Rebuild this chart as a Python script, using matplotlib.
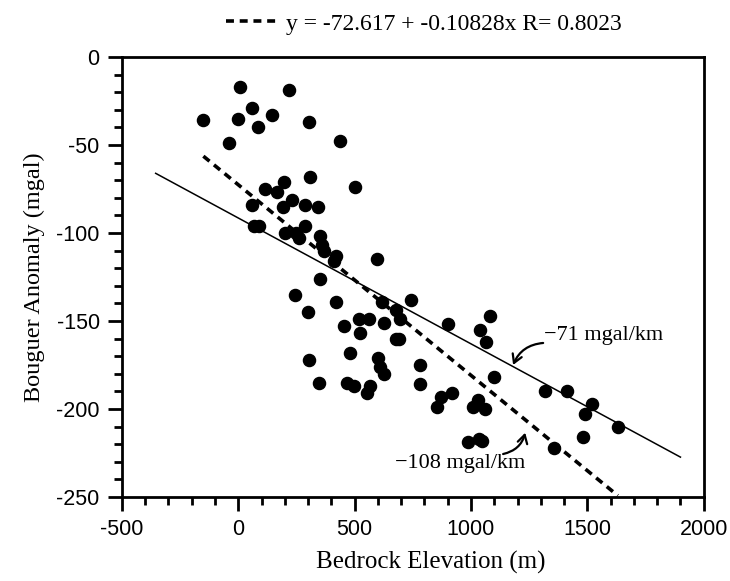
import numpy as np
import matplotlib
matplotlib.use("Agg")
import matplotlib.pyplot as plt
from matplotlib.lines import Line2D
from matplotlib.ticker import MultipleLocator

# bedrock elevation (m) and bouguer anomaly (mgal)
elevation = [-150, 6, -1, 60, 86, 146, 218, 304, -39, 435,
             308, 196, 113, 168, 229, 60, 192, 285, 342,
             67, 89, 287, 199, 246, 261, 351, 361, 368, 418, 411,
             500, 597, 351, 242, 422, 299, 454, 304, 349,
             619, 743, 676, 696, 626, 519, 561, 525, 676, 690, 480,
             902, 1081, 1037, 1065, 600, 611, 626, 783, 783,
             468, 497, 568, 554, 1100, 919, 869, 852, 1028, 1007, 1060,
             1034, 1048, 986, 1316, 1412, 1522, 1492, 1631, 1481, 1357]
anomaly = [-36, -17, -35, -29, -40, -33, -19, -37, -49, -48,
           -68, -71, -75, -77, -81, -84, -85, -84, -85,
           -96, -96, -96, -100, -100, -103, -102, -107, -110, -113, -116,
           -74, -115, -126, -135, -139, -145, -153, -172, -185,
           -139, -138, -144, -149, -151, -149, -149, -157, -160, -160, -168,
           -152, -147, -155, -162, -171, -176, -180, -175, -186,
           -185, -187, -187, -191, -182, -191, -193, -199, -195, -199, -200,
           -217, -218, -219, -190, -190, -197, -203, -210, -216, -222]

# least squares fit quoted in the legend
fit_a, fit_b, fit_r = -72.617, -0.10828, 0.8023
# the -71 mgal/km line
solid_x = [-355, 1900]
solid_a, solid_b = -91.5, -0.0715

plt.rcParams['axes.unicode_minus'] = False
serif = 'Liberation Serif'
sans = 'Liberation Sans'

fig = plt.figure(figsize=(7.3, 5.81), dpi=100)
ax = fig.add_axes([0.167, 0.1446, 0.797, 0.7574])

ax.scatter(elevation, anomaly, s=76, color='black', zorder=3)

xs = np.array([min(elevation), max(elevation)])
ax.plot(xs, fit_a + fit_b * xs, color='black', lw=2.6, ls=(0, (2.2, 1.6)), zorder=2)

sx = np.array(solid_x)
ax.plot(sx, solid_a + solid_b * sx, color='black', lw=1.1, zorder=2)

ax.set_xlim(-500, 2000)
ax.set_ylim(-250, 0)
ax.xaxis.set_major_locator(MultipleLocator(500))
ax.xaxis.set_minor_locator(MultipleLocator(100))
ax.yaxis.set_major_locator(MultipleLocator(50))
ax.yaxis.set_minor_locator(MultipleLocator(10))
ax.tick_params(which='major', direction='out', length=10, width=2, labelsize=15.5, pad=6)
ax.tick_params(which='minor', direction='out', length=6, width=2)
ax.tick_params(top=False, right=False)
for lab in ax.get_xticklabels() + ax.get_yticklabels():
    lab.set_fontfamily(sans)
for sp in ax.spines.values():
    sp.set_linewidth(2)

ax.set_xlabel('Bedrock Elevation (m)', fontfamily=serif, fontsize=18, labelpad=8, x=0.53)
ax.set_ylabel('Bouguer Anomaly (mgal)', fontfamily=serif, fontsize=17.5, labelpad=8)

handle = Line2D([], [], color='black', lw=2.6, ls=(0, (2.2, 1.6)))
ax.legend([handle], ['y = -72.617 + -0.10828x R= 0.8023'], loc='center',
          bbox_to_anchor=(0.519, 1.075), frameon=False, handlelength=2.2,
          handletextpad=0.3, prop={'family': serif, 'size': 17})

# slope labels with curved arrows
arrow = dict(arrowstyle='->,head_length=0.6,head_width=0.35', lw=1.6, color='black',
             connectionstyle='arc3,rad=0.3', shrinkA=0, shrinkB=0)
ax.annotate('', xy=(1181, -175), xytext=(1310, -162.5), arrowprops=arrow)
ax.text(1312, -158.5, '\u221271 mgal/km', ha='left', va='center',
        fontfamily=serif, fontsize=16)
ax.annotate('', xy=(1233, -213.5), xytext=(1138, -225.6), arrowprops=arrow)
ax.text(674, -230.7, '\u2212108 mgal/km', ha='left', va='center',
        fontfamily=serif, fontsize=16)

fig.savefig('out.png', dpi=100)
